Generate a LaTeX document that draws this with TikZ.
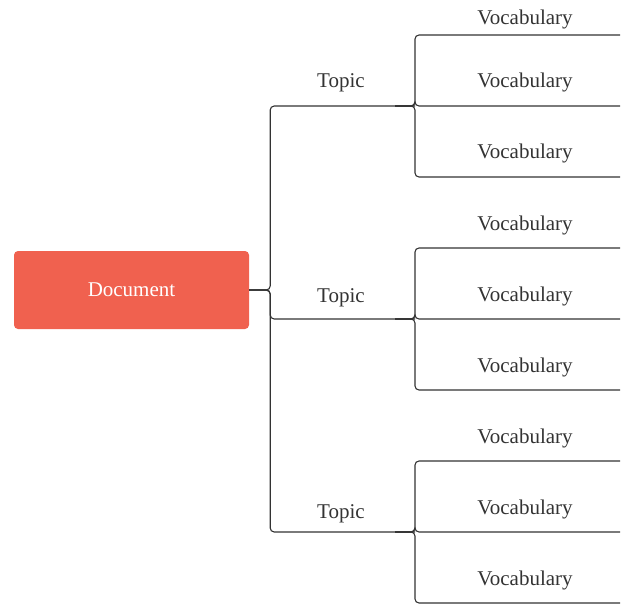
\documentclass[tikz,border=0pt]{standalone}
\usepackage{fontspec}
\setmainfont{Liberation Serif}
\usetikzlibrary{calc}
\definecolor{docred}{HTML}{F0614F}
\definecolor{ink}{HTML}{333333}
\begin{document}
\begin{tikzpicture}[x=1pt,y=-1pt,
  rootbox/.style={fill=docred, rounded corners=4pt, minimum width=235pt, minimum height=78pt,
    text=white, font=\fontsize{21}{24}\selectfont, inner sep=0pt},
  label/.style={anchor=base, inner sep=0pt, text=ink, font=\fontsize{21}{24}\selectfont},
  link/.style={draw=ink, line width=1.1pt, rounded corners=4pt}]
\useasboundingbox (0,0) rectangle (622,605);

% root
\node[rootbox] (doc) at (131.5,290) {Document};

% topics: label above the end of each branch line
\foreach \t/\ly/\y in {1/87/106,2/302/319,3/518/532}{
  \node[label] (t\t) at (341,\ly) {Topic};
  \coordinate (te\t) at (415,\y);
}

% vocabulary entries, three per topic
\foreach \t/\y in {1/35,2/248,3/461}{
  \foreach \k in {1,2,3}{
    \pgfmathsetmacro{\ly}{\y+(\k-1)*71}
    \coordinate (ve\t\k) at (620,\ly);
  }
}
\foreach \t/\k/\ly in {1/1/24,1/2/87,1/3/158,2/1/230,2/2/301,2/3/372,3/1/443,3/2/514,3/3/585}{
  \node[label] (v\t\k) at (525,\ly) {Vocabulary};
}

% root to topics
\foreach \t in {1,2,3}{
  \draw[link] (doc.east) -- ($(doc.east)+(21,0)$) |- (te\t);
}

% topics to vocabulary
\foreach \t in {1,2,3}{
  \foreach \k in {1,2,3}{
    \draw[link] ($(te\t)+(-20,0)$) -- (te\t) |- (ve\t\k);
  }
}
\end{tikzpicture}
\end{document}
